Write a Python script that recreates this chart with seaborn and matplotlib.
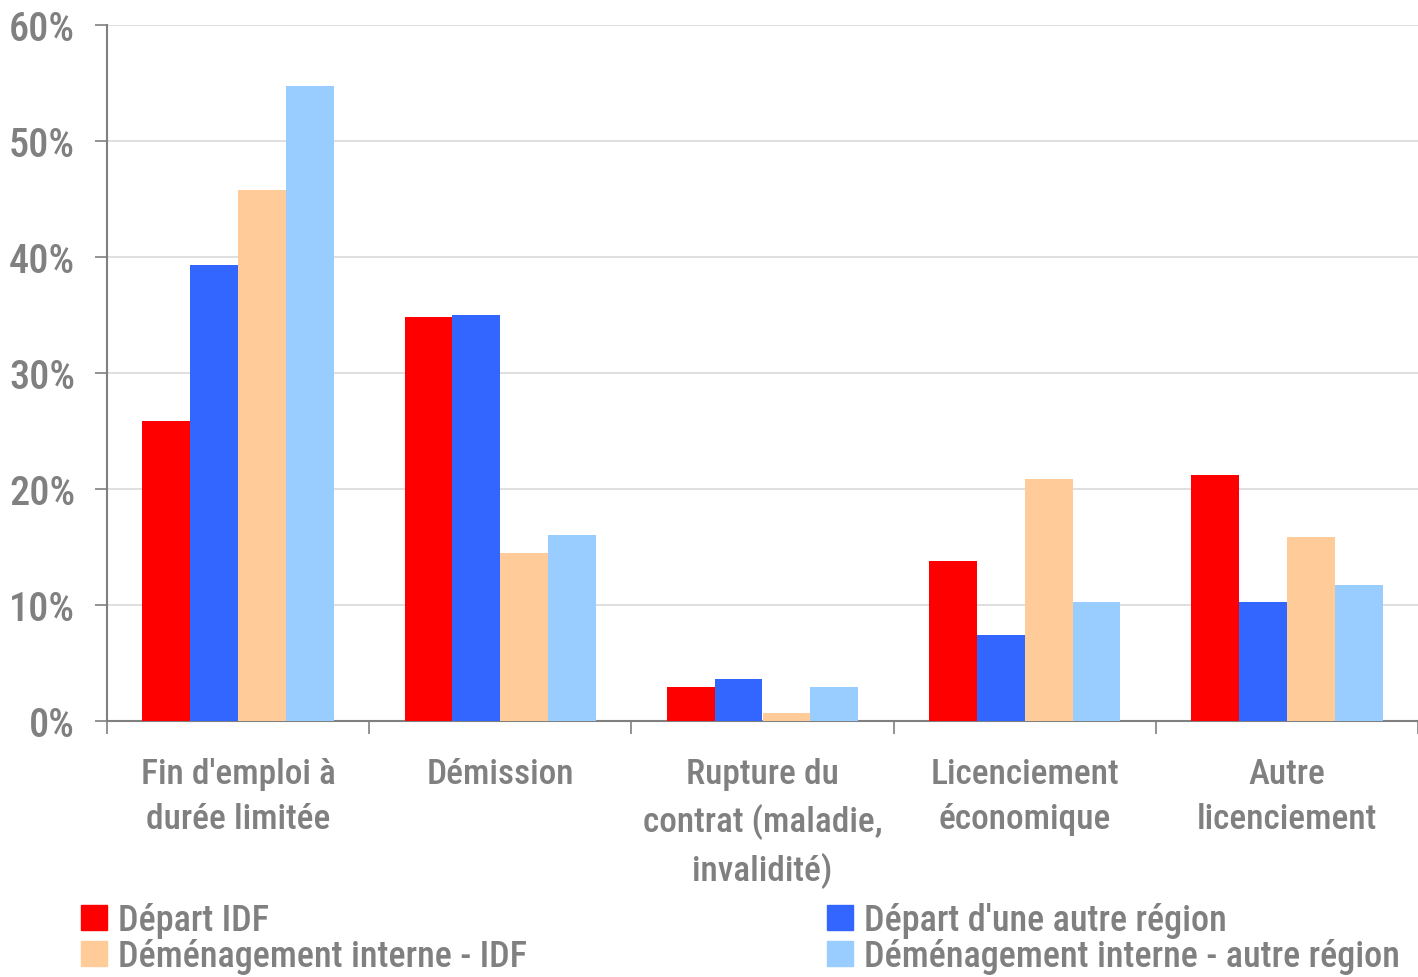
import matplotlib
matplotlib.use("Agg")
import matplotlib.pyplot as plt
import matplotlib.patches as mpatches
import seaborn as sns
import pandas as pd
from matplotlib.ticker import FuncFormatter, FixedLocator

categories = ["Fin d'emploi à\ndurée limitée", "Démission",
              "Rupture du\ncontrat (maladie,\ninvalidité)",
              "Licenciement\néconomique", "Autre\nlicenciement"]
series = ["Départ IDF", "Départ d'une autre région",
          "Déménagement interne - IDF", "Déménagement interne - autre région"]
depart_idf = [25.9, 34.8, 2.9, 13.8, 21.2]
depart_autre = [39.3, 35.0, 3.6, 7.4, 10.3]
dem_idf = [45.8, 14.5, 0.7, 20.9, 15.9]
dem_autre = [54.7, 16.0, 2.9, 10.3, 11.7]
colors = ["#FF0000", "#3366FF", "#FFCC99", "#99CCFF"]

values = [depart_idf, depart_autre, dem_idf, dem_autre]
rows = []
for s, vals in zip(series, values):
    for c, v in zip(categories, vals):
        rows.append({"cat": c, "serie": s, "val": v})
df = pd.DataFrame(rows)

sns.set_theme(style="white")
plt.rcParams['font.family'] = ['Liberation Sans Narrow', 'Roboto Condensed', 'DejaVu Sans']
grey = "#808080"

fig = plt.figure(figsize=(14.18, 9.78), dpi=100)
ax = fig.add_axes([107/1418, 1-722/978, 1-107/1418, (722-26)/978])

sns.barplot(data=df, x="cat", y="val", hue="serie", order=categories,
            hue_order=series, palette=colors, saturation=1, width=0.73,
            legend=False, ax=ax, linewidth=0, zorder=3)

ax.set_xlim(-0.5, 4.5)
ax.set_ylim(0, 60)
ax.set_yticks(range(0, 61, 10))
ax.yaxis.set_major_formatter(FuncFormatter(lambda v, p: f"{int(v)}%"))
ax.grid(axis="y", color="#D9D9D9", linewidth=1.2, zorder=0)
ax.set_axisbelow(True)
ax.set_xlabel("")
ax.set_ylabel("")

for side in ["top", "right"]:
    ax.spines[side].set_visible(False)
for side in ["left", "bottom"]:
    ax.spines[side].set_color(grey)
    ax.spines[side].set_linewidth(1.5)

ax.tick_params(axis="y", left=True, length=9, width=1.2, color=grey,
               labelsize=29, labelcolor=grey, pad=14)
ax.tick_params(axis="x", which="major", length=0, labelsize=25.5,
               labelcolor=grey, pad=26)
ax.xaxis.set_minor_locator(FixedLocator([-0.5, 0.5, 1.5, 2.5, 3.5, 4.5]))
ax.tick_params(axis="x", which="minor", bottom=True, length=9, width=1.2, color=grey)
for lab in ax.get_xticklabels():
    lab.set_linespacing(1.45)
    lab.set_fontweight("medium")
for lab in ax.get_yticklabels():
    lab.set_fontweight("medium")

h = [mpatches.Patch(color=c) for c in colors]
kw = dict(loc="upper left", frameon=False, labelcolor=grey,
          handlelength=0.72, handleheight=0.72, handletextpad=0.3,
          labelspacing=0.0, borderaxespad=0, borderpad=0,
          prop={"size": 26, "weight": "medium"})
leg1 = fig.legend([h[0], h[2]], [series[0], series[2]],
                  bbox_to_anchor=(81/1418, 1-903/978), **kw)
leg2 = fig.legend([h[1], h[3]], [series[1], series[3]],
                  bbox_to_anchor=(827/1418, 1-903/978), **kw)

fig.savefig("out.png", dpi=100)
